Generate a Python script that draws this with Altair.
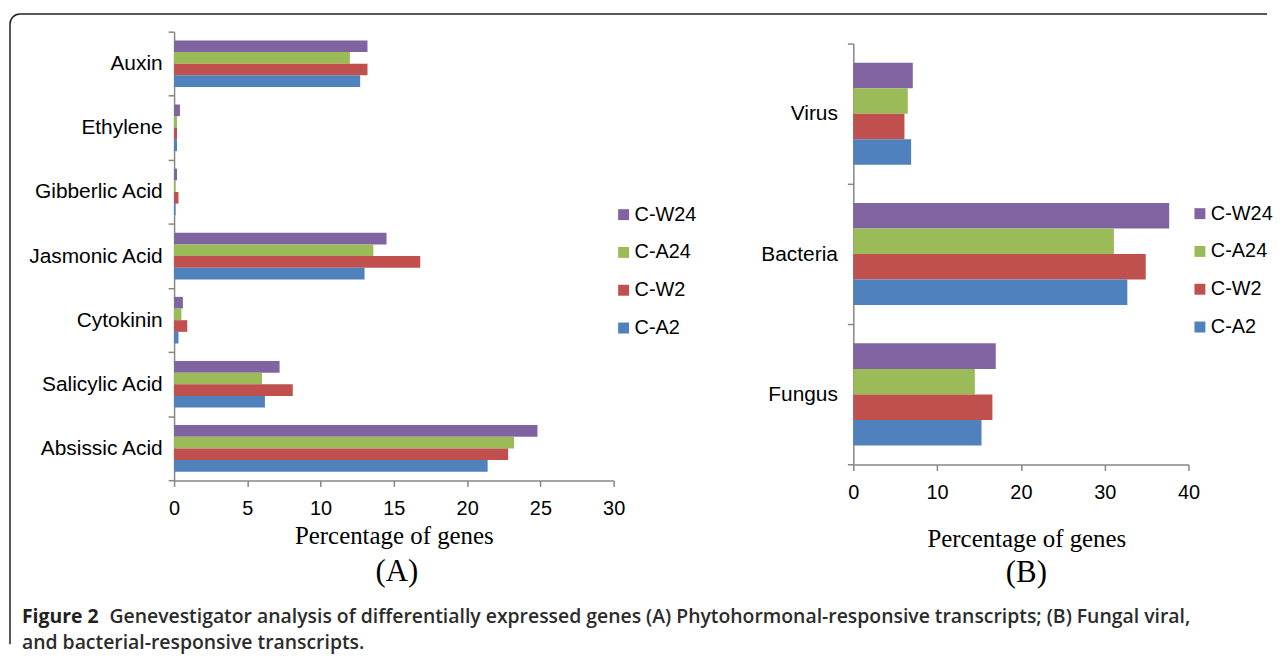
import altair as alt
import pandas as pd

series = ["C-W24", "C-A24", "C-W2", "C-A2"]
colors = ["#8064A2", "#9BBB59", "#C0504D", "#4F81BD"]

# Panel A: phytohormone-responsive transcripts (% of genes)
cats_a = ["Auxin", "Ethylene", "Gibberlic Acid", "Jasmonic Acid",
          "Cytokinin", "Salicylic Acid", "Absissic Acid"]
a_cw24 = [13.2, 0.4, 0.2, 14.5, 0.6, 7.2, 24.8]
a_ca24 = [12.0, 0.2, 0.1, 13.6, 0.5, 6.0, 23.2]
a_cw2 = [13.2, 0.2, 0.3, 16.8, 0.9, 8.1, 22.8]
a_ca2 = [12.7, 0.2, 0.1, 13.0, 0.3, 6.2, 21.4]
ticks_a = [0, 5, 10, 15, 20, 25, 30]

# Panel B: fungal, viral and bacterial-responsive transcripts (% of genes)
cats_b = ["Virus", "Bacteria", "Fungus"]
b_cw24 = [7.1, 37.7, 17.0]
b_ca24 = [6.5, 31.1, 14.5]
b_cw2 = [6.1, 34.9, 16.6]
b_ca2 = [6.9, 32.7, 15.3]
ticks_b = [0, 10, 20, 30, 40]

caption_bold = "Figure 2"
caption_1 = ("Genevestigator analysis of differentially expressed genes (A) "
             "Phytohormonal-responsive transcripts; (B) Fungal viral,")
caption_2 = "and bacterial-responsive transcripts."


def to_long(cats, cols):
    rows = []
    for s, vals in zip(series, cols):
        for c, v in zip(cats, vals):
            rows.append({"category": c, "series": s, "value": v})
    return pd.DataFrame(rows)


df_a = to_long(cats_a, [a_cw24, a_ca24, a_cw2, a_ca2])
df_b = to_long(cats_b, [b_cw24, b_ca24, b_cw2, b_ca2])
one = pd.DataFrame({"k": [0]})

GRAY = "#878787"
INK = "#231f20"
SANS = "Liberation Sans, Arial, Helvetica, sans-serif"
SERIF = "Liberation Serif, Times New Roman, serif"
CAPF = "Open Sans, sans-serif"


def bar_chart(df, cats, xmax, ticks, y_scale, off_range, label_pad, legend_x,
              legend_y, title_x, title_y):
    return alt.Chart(df).mark_bar().encode(
        x=alt.X("value:Q",
                scale=alt.Scale(domain=[0, xmax], nice=False),
                axis=alt.Axis(values=ticks, title="Percentage of genes",
                              grid=False, tickSize=6, tickWidth=1.5,
                              domainWidth=1.5, domainColor=GRAY, tickColor=GRAY,
                              labelFont=SANS, labelFontSize=20,
                              labelColor="black", labelPadding=12,
                              labelFlush=False,
                              titleFont=SERIF, titleFontSize=25,
                              titleFontWeight="normal", titleColor="black",
                              titleX=title_x, titleY=title_y,
                              titleAlign="center", titleBaseline="alphabetic")),
        y=alt.Y("category:N", sort=cats, scale=y_scale,
                axis=alt.Axis(title=None, tickBand="extent", tickSize=6,
                              tickWidth=1.5, domainWidth=1.5,
                              domainColor=GRAY, tickColor=GRAY,
                              labelFont=SANS, labelFontSize=21,
                              labelColor="black", labelPadding=label_pad,
                              labelLimit=300)),
        yOffset=alt.YOffset("series:N", sort=series,
                            scale=alt.Scale(domain=series, range=off_range,
                                            paddingInner=0, paddingOuter=0.75)),
        color=alt.Color("series:N",
                        scale=alt.Scale(domain=series, range=colors),
                        legend=alt.Legend(orient="none", legendX=legend_x,
                                          legendY=legend_y, title=None,
                                          direction="vertical",
                                          symbolType="square", symbolSize=121,
                                          symbolStrokeWidth=0,
                                          labelFont=SANS, labelFontSize=20,
                                          labelColor="black", rowPadding=18,
                                          padding=0, labelOffset=1)),
    )


# ---- Panel A ----
H_A = 451.3
ys_a = alt.Scale(domain=cats_a, paddingInner=0, paddingOuter=0)
bars_a = bar_chart(df_a, cats_a, 30, ticks_a, ys_a, [0, H_A / 7], 6,
                   442, 174, 221, 63)

R = 10
fx, fy = -165, -17.7
frame_top = alt.Chart(one).mark_rule(color=INK, strokeWidth=1.5).encode(
    x=alt.value(fx + R), x2=alt.value(1099), y=alt.value(fy))
frame_left = alt.Chart(one).mark_rule(color=INK, strokeWidth=1.5).encode(
    x=alt.value(fx), y=alt.value(fy + R), y2=alt.value(616))
corner = alt.Chart(one).mark_arc(color=INK, radius=R + 0.75, radius2=R - 0.75,
                                 theta=4.712389, theta2=6.283185).encode(
    x=alt.value(fx + R), y=alt.value(fy + R))

CAP_Y1 = 625 - 30.7
CAP_Y2 = 651 - 30.7
cap_a = alt.Chart(one).mark_text(text=caption_bold, font=CAPF,
                                 fontSize=19.5, fontWeight="bold", color=INK,
                                 align="left", baseline="alphabetic").encode(
    x=alt.value(-153), y=alt.value(CAP_Y1))
cap_b = alt.Chart(one).mark_text(text=caption_1, font=CAPF,
                                 fontSize=19.5, fontWeight=600, color="#2b2b2b",
                                 align="left", baseline="alphabetic").encode(
    x=alt.value(-65), y=alt.value(CAP_Y1))
cap_c = alt.Chart(one).mark_text(text=caption_2, font=CAPF,
                                 fontSize=19.5, fontWeight=600, color="#2b2b2b",
                                 align="left", baseline="alphabetic").encode(
    x=alt.value(-153), y=alt.value(CAP_Y2))
tag_a = alt.Chart(one).mark_text(text="(A)", font=SERIF, fontSize=31,
                                 color="black", align="center",
                                 baseline="alphabetic").encode(
    x=alt.value(224), y=alt.value(552))

panel_a = alt.layer(bars_a, frame_top, frame_left, corner, cap_a, cap_b, cap_c,
                    tag_a).properties(width=442, height=H_A)

# ---- Panel B ----
ys_b = alt.Scale(domain=cats_b, paddingInner=0, paddingOuter=0,
                 range=[12, 435.3])
bars_b = bar_chart(df_b, cats_b, 40, ticks_b, ys_b, [0, (435.3 - 12) / 3], 10,
                   338.5, 173, 174, 82)
tag_b = alt.Chart(one).mark_text(text="(B)", font=SERIF, fontSize=31,
                                 color="black", align="center",
                                 baseline="alphabetic").encode(
    x=alt.value(174), y=alt.value(553))
panel_b = alt.layer(bars_b, tag_b).properties(width=337, height=435.3)

chart = alt.hconcat(panel_a, panel_b, spacing=241, bounds="flush").resolve_scale(
    color="independent", yOffset="independent", x="independent",
    y="independent").resolve_legend(color="independent").properties(
    padding={"left": 1, "top": 3, "right": 0, "bottom": 0}
).configure_view(strokeWidth=0)

chart.save("out.html", embed_options={"renderer": "svg", "actions": False})
